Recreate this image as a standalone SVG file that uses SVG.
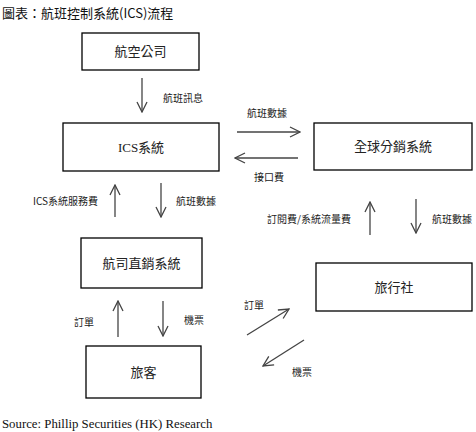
<svg xmlns="http://www.w3.org/2000/svg" width="476" height="432" viewBox="0 0 476 432">
<style>
.box{fill:#fff;stroke:#000;stroke-width:1.3}
.bl{font-family:"Liberation Serif","Noto Sans CJK TC",serif;font-size:13px;fill:#222;text-anchor:middle;dominant-baseline:central}
.lb{font-family:"Noto Sans CJK TC","Liberation Sans",sans-serif;font-size:10px;fill:#222;dominant-baseline:central}
.ar{fill:none;stroke:#444;stroke-width:1.3;marker-end:url(#ah)}
</style>
<defs>
<marker id="ah" viewBox="0 0 12 12" refX="11" refY="6" markerWidth="12" markerHeight="12" markerUnits="userSpaceOnUse" orient="auto">
<path d="M1,1 L11,6 L1,11" fill="none" stroke="#444" stroke-width="1.3"/>
</marker>
</defs>
<rect width="476" height="432" fill="#fff"/>
<text x="2" y="12" font-family="'Noto Sans CJK TC','Liberation Sans',sans-serif" font-size="13" fill="#111" dominant-baseline="central">圖表：航班控制系統(ICS)流程</text>

<g id="airline"><rect class="box" x="82" y="33" width="117" height="37"/><text class="bl" x="140.5" y="51.5">航空公司</text></g>
<g id="ics"><rect class="box" x="63" y="123" width="156" height="48"/><text class="bl" x="141" y="147">ICS系統</text></g>
<g id="gds"><rect class="box" x="314" y="123" width="158" height="47"/><text class="bl" x="393" y="146.5">全球分銷系統</text></g>
<g id="direct"><rect class="box" x="81" y="238" width="121" height="50"/><text class="bl" x="141.5" y="263">航司直銷系統</text></g>
<g id="agency"><rect class="box" x="316" y="263" width="156" height="48"/><text class="bl" x="394" y="287">旅行社</text></g>
<g id="passenger"><rect class="box" x="86" y="346" width="115" height="52"/><text class="bl" x="143.5" y="372">旅客</text></g>

<g id="connectors">
<line class="ar" x1="142" y1="78" x2="142" y2="112"/>
<text class="lb" x="163" y="97">航班訊息</text>

<line class="ar" x1="115" y1="217" x2="115" y2="185"/>
<text class="lb" x="33" y="200" font-family="Liberation Serif,'Noto Sans CJK TC',serif">ICS系統服務費</text>
<line class="ar" x1="161" y1="183" x2="161" y2="217"/>
<text class="lb" x="176" y="200">航班數據</text>

<line class="ar" x1="237" y1="132" x2="300" y2="132"/>
<text class="lb" x="247" y="112">航班數據</text>
<line class="ar" x1="298" y1="158" x2="235" y2="158"/>
<text class="lb" x="254" y="176">接口費</text>

<line class="ar" x1="370" y1="235" x2="370" y2="202"/>
<text class="lb" x="267" y="218">訂閱費/系統流量費</text>
<line class="ar" x1="416" y1="199" x2="416" y2="233"/>
<text class="lb" x="432" y="218">航班數據</text>

<line class="ar" x1="118" y1="337" x2="118" y2="301"/>
<text class="lb" x="74" y="321">訂單</text>
<line class="ar" x1="163" y1="301" x2="163" y2="336"/>
<text class="lb" x="184" y="319">機票</text>

<line class="ar" x1="247" y1="335" x2="289" y2="309"/>
<text class="lb" x="244" y="304">訂單</text>
<line class="ar" x1="304" y1="340" x2="263" y2="366"/>
<text class="lb" x="292" y="371">機票</text>
</g>
<text x="2" y="424" font-family="'Liberation Serif',serif" font-size="12.8" fill="#111" dominant-baseline="central">Source: Phillip Securities (HK) Research</text>
</svg>
